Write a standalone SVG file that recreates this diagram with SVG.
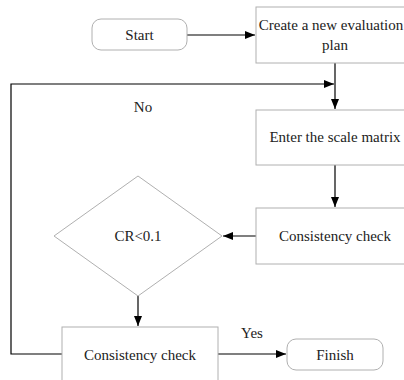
<svg xmlns="http://www.w3.org/2000/svg" width="404" height="380" viewBox="0 0 404 380">
<style>
.box{fill:#fff;stroke:#b0b0b0;stroke-width:1}
text{font-family:'Liberation Serif','DejaVu Serif',serif;font-size:15px;fill:#222;text-anchor:middle}
.c{fill:none;stroke:#000;stroke-width:1.2}
</style>
<defs>
<marker id="ah" viewBox="0 0 10 10" refX="10" refY="5" markerWidth="10" markerHeight="10" markerUnits="userSpaceOnUse" orient="auto">
<path d="M0,1 L10,5 L0,9 z" fill="#000"/>
</marker>
</defs>
<rect width="404" height="380" fill="#fff"/>
<g id="connectors">
<path class="c" d="M187,35 H255" marker-end="url(#ah)"/>
<path class="c" d="M335,63 V109" marker-end="url(#ah)"/>
<path class="c" d="M62,354 H11 V84 H334" marker-end="url(#ah)"/>
<path class="c" d="M335,165 V207" marker-end="url(#ah)"/>
<path class="c" d="M256,236 H223" marker-end="url(#ah)"/>
<path class="c" d="M138,296 V326" marker-end="url(#ah)"/>
<path class="c" d="M218,354 H286" marker-end="url(#ah)"/>
<text x="143" y="112">No</text>
<text x="252" y="338">Yes</text>
</g>
<g id="start">
<rect class="box" x="92" y="19" width="95" height="31" rx="9"/>
<text x="139.5" y="40">Start</text>
</g>
<g id="create">
<rect class="box" x="256" y="7" width="158" height="56"/>
<text x="331" y="30">Create a new evaluation</text>
<text x="335" y="50">plan</text>
</g>
<g id="enter">
<rect class="box" x="256" y="110" width="158" height="55"/>
<text x="335" y="142">Enter the scale matrix</text>
</g>
<g id="check1">
<rect class="box" x="256" y="208" width="158" height="56"/>
<text x="335" y="241">Consistency check</text>
</g>
<g id="decision">
<polygon class="box" points="138,176 222,236 138,296 54,236"/>
<text x="138" y="241">CR&lt;0.1</text>
</g>
<g id="check2">
<rect class="box" x="62" y="327" width="156" height="60"/>
<text x="140" y="360">Consistency check</text>
</g>
<g id="finish">
<rect class="box" x="287" y="339" width="96" height="31" rx="9"/>
<text x="335" y="360">Finish</text>
</g>
</svg>
